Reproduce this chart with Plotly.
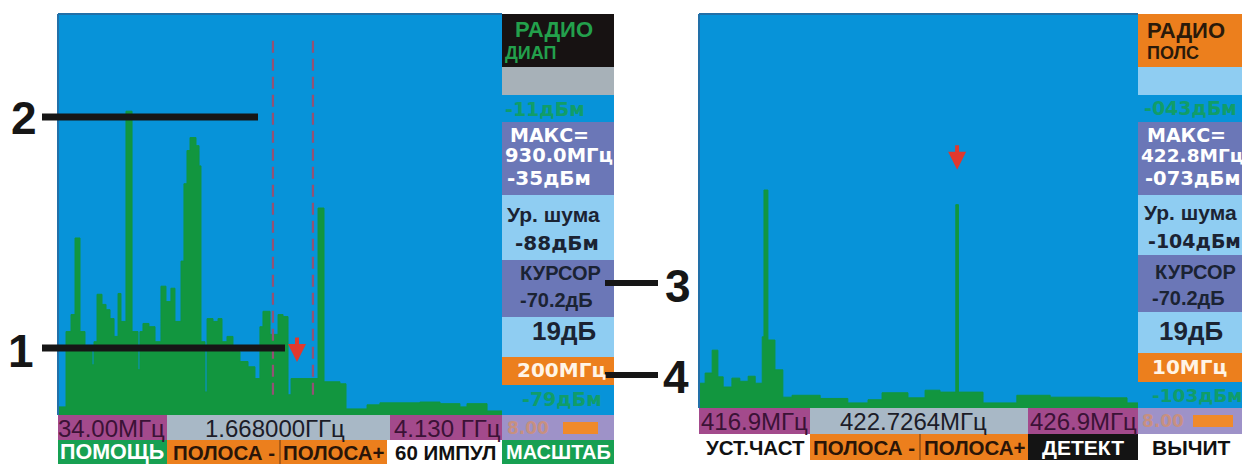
import plotly.graph_objects as go

W, H = 1242, 465

# ---------------- spectrum data ----------------
# Wide-band sweep (left screen): step start frequency, MHz -> level, dBm
left_freq_mhz = [34, 71, 108, 154, 191, 237, 283, 348, 366, 394,
                 440, 477, 514, 551, 588, 615, 661, 717, 772, 790,
                 818, 873, 929, 984, 1030, 1076, 1113, 1169, 1196, 1224,
                 1252, 1307, 1335, 1353, 1390, 1409, 1464, 1510, 1547, 1593,
                 1648, 1713, 1787, 1851, 1897, 1925, 1990, 2064, 2110, 2156,
                 2184, 2433, 2488, 2635, 2691, 2885, 3004, 3373, 3558, 3742,
                 3807, 3992, 4130]
left_level_dbm = [-108, -108, -89.4, -85.2, -66.3, -89.4, -94.3, -97.6, -91.9, -80.2,
                  -82.7, -84.0, -86.2, -90.6, -80.0, -86.9, -35.0, -89.4, -98.8, -89.4,
                  -87.4, -88.2, -91.9, -78.2, -82.0, -78.7, -86.9, -72.0, -52.9, -44.7,
                  -41.5, -43.5, -48.5, -91.9, -104.3, -86.2, -86.9, -86.2, -91.9, -90.6,
                  -94.3, -96.8, -98.1, -101.0, -88.2, -84.4, -90.1, -85.2, -85.7, -105.0,
                  -101.0, -58.9, -101.8, -102.3, -108.5, -107.5, -107.0, -106.8, -107.2, -108.0,
                  -107.2, -109.0, -109.0]

# Narrow-band sweep (right screen)
right_freq_mhz = [416.90, 417.04, 417.20, 417.33, 417.45, 417.65, 417.83, 418.02, 418.18, 418.34,
                  418.38, 418.47, 418.63, 418.81, 419.02, 419.66, 420.29, 420.75, 421.07, 421.66,
                  422.05, 422.39, 422.75, 422.81, 423.37, 424.14, 424.90, 426.03, 426.65, 426.90]
right_level_dbm = [-101.1, -99.5, -95.9, -100.1, -101.7, -100.3, -100.8, -100.0, -101.1, -93.8,
                   -70.7, -94.3, -99.0, -103.3, -103.0, -103.5, -104.2, -103.7, -102.6, -103.4,
                   -102.2, -102.5, -73.0, -102.5, -104.2, -103.0, -103.3, -103.4, -104.2, -104.2]

left_span_mhz = [34.0, 4130.0]
left_range_dbm = [-110, -11]
right_span_mhz = [416.9, 426.9]
right_range_dbm = [-105, -43]

left_band_marks_mhz = [2017, 2386]
left_cursor = (2239, -96.9)
right_cursor = (422.78, -67.5)

# ---------------- colours ----------------
BLUE = "#0793d9"
GREEN = "#12963f"
LBLUE = "#8fcdf2"
SLATE = "#6b77b7"
ORANGE = "#ec7f1d"
MAGENTA = "#a34a8c"
GREY = "#a8b8c6"
LAV = "#9e92c8"
DARK = "#1b2333"
TXTGREEN = "#14a04e"

ARIAL = "Liberation Sans, Arial, sans-serif"
DEJA = "DejaVu Sans, sans-serif"


def px(x):
    return x / W


def py(y):
    return 1 - y / H


shapes = []
annotations = []


def box(x0, y0, x1, y1, color):
    shapes.append(dict(type="rect", xref="paper", yref="paper",
                       x0=px(x0), x1=px(x1), y0=py(y1), y1=py(y0),
                       fillcolor=color, line_width=0, layer="above"))


def seg(x0, y0, x1, y1, color, width):
    shapes.append(dict(type="line", xref="paper", yref="paper",
                       x0=px(x0), x1=px(x1), y0=py(y0), y1=py(y1),
                       line=dict(color=color, width=width), layer="above"))


def label(text, x, y, size, color, family=ARIAL, bold=True, anchor="left", opacity=1.0):
    annotations.append(dict(text=text, xref="paper", yref="paper",
                            x=px(x), y=py(y), xanchor=anchor, yanchor="middle",
                            showarrow=False, opacity=opacity,
                            font=dict(family=family, size=size, color=color,
                                      weight="bold" if bold else "normal")))


fig = go.Figure()

# ---------------- spectra ----------------
fig.add_trace(go.Scatter(x=left_span_mhz, y=[left_range_dbm[0]] * 2, mode="lines",
                         line=dict(width=0, color=GREEN), hoverinfo="skip",
                         showlegend=False, xaxis="x", yaxis="y"))
fig.add_trace(go.Scatter(x=left_freq_mhz, y=left_level_dbm, mode="lines",
                         line=dict(width=1, color=GREEN, shape="hv"),
                         fill="tonexty", fillcolor=GREEN,
                         showlegend=False, xaxis="x", yaxis="y"))
fig.add_trace(go.Scatter(x=right_span_mhz, y=[right_range_dbm[0]] * 2, mode="lines",
                         line=dict(width=0, color=GREEN), hoverinfo="skip",
                         showlegend=False, xaxis="x2", yaxis="y2"))
fig.add_trace(go.Scatter(x=right_freq_mhz, y=right_level_dbm, mode="lines",
                         line=dict(width=1, color=GREEN, shape="hv"),
                         fill="tonexty", fillcolor=GREEN,
                         showlegend=False, xaxis="x2", yaxis="y2"))

# band limit markers on the wide-band screen
for f in left_band_marks_mhz:
    shapes.append(dict(type="line", xref="x", yref="y", x0=f, x1=f, y0=-105, y1=-17,
                       line=dict(color="#935274", width=2.2, dash="12px,6px"), layer="above"))

# cursor arrows
for (cx, cy), xr, yr in [(left_cursor, "x", "y"), (right_cursor, "x2", "y2")]:
    annotations.append(dict(text="", x=cx, y=cy, xref=xr, yref=yr, ax=0, ay=-26,
                            showarrow=True, arrowhead=2, arrowsize=0.9, arrowwidth=4,
                            arrowcolor="#e0392e"))

# plot frame edges
for x0, x1, yb in [(58, 502, 415), (699, 1138, 408)]:
    seg(x0, 14, x1, 14, "#2270a8", 2)
    seg(x0, 14, x0, yb, "#2270a8", 2)

# ---------------- left side panel ----------------
box(502, 14, 614, 67, "#171212")
box(502, 67, 614, 95, "#a7b1b8")
box(502, 95, 614, 122, BLUE)
box(502, 122, 614, 195, SLATE)
box(502, 195, 614, 260, LBLUE)
box(502, 260, 614, 317, SLATE)
box(502, 317, 614, 357, LBLUE)
box(502, 357, 614, 385, ORANGE)
box(502, 385, 614, 415, BLUE)

label("РАДИО", 554, 30, 22, "#23a04c", anchor="center")
label("ДИАП", 503, 53, 18, "#23a04c")
label("-11дБм", 503, 109, 19, TXTGREEN, family=DEJA, opacity=0.8)
label("МАКС=", 508, 135, 19, "white", family=DEJA)
label("930.0МГц", 503, 156, 19.5, "white", family=DEJA)
label("-35дБм", 505, 178, 20, "white", family=DEJA)
label("Ур. шума", 505, 214, 21, DARK)
label("-88дБм", 513, 243, 20, DARK, family=DEJA)
label("КУРСОР", 518, 273, 20, DARK)
label("-70.2дБ", 518, 300, 20, DARK)
label("19дБ", 530, 331, 26, DARK)
label("200МГц", 515, 370, 20, "#fff4e6", family=DEJA)
label("-79дБм", 520, 399, 19, TXTGREEN, family=DEJA, opacity=0.8)

# ---------------- left bottom rows ----------------
box(58, 415, 167, 440, MAGENTA)
box(167, 415, 390, 440, GREY)
box(390, 415, 502, 440, MAGENTA)
box(502, 415, 614, 440, LAV)
box(58, 440, 167, 464, "#17a052")
box(167, 440, 387, 464, ORANGE)
box(387, 440, 502, 464, "white")
box(502, 440, 614, 464, "#17a052")
seg(280, 440, 280, 464, "#6b3a12", 1)

label("34.00МГц", 111, 428, 24, "#3b1236", bold=False, anchor="center")
label("1.668000ГГц", 275, 428, 24, "#1c1c28", bold=False, anchor="center")
label("4.130 ГГц", 447, 428, 24, "#3b1236", bold=False, anchor="center")
label("8.00", 505, 428, 17, "#f0903a", family=DEJA, opacity=0.5)
shapes.append(dict(type="rect", xref="paper", yref="paper",
                   x0=px(563), x1=px(598), y0=py(434), y1=py(422),
                   fillcolor="#f08a2a", line_width=0, layer="above"))
label("ПОМОЩЬ", 112, 452, 21.5, "white", anchor="center")
label("ПОЛОСА -", 224, 452, 20.5, "#2a1508", anchor="center")
label("ПОЛОСА+", 334, 452, 20.5, "#2a1508", anchor="center")
label("60 ИМПУЛ", 445, 452, 20.5, "#111111", anchor="center")
label("МАСШТАБ", 558, 452, 20, "white", anchor="center")

# ---------------- right side panel ----------------
box(1138, 14, 1242, 67, ORANGE)
box(1138, 67, 1242, 95, LBLUE)
box(1138, 95, 1242, 122, BLUE)
box(1138, 122, 1242, 195, SLATE)
box(1138, 195, 1242, 255, LBLUE)
box(1138, 255, 1242, 312, SLATE)
box(1138, 312, 1242, 353, LBLUE)
box(1138, 353, 1242, 382, ORANGE)
box(1138, 382, 1242, 408, BLUE)

label("РАДИО", 1145, 31, 22, "#2a1a0a")
label("ПОЛС", 1145, 53, 18, "#2a1a0a")
label("-043дБм", 1142, 108, 19, TXTGREEN, family=DEJA, opacity=0.8)
label("МАКС=", 1145, 135, 19, "white", family=DEJA)
label("422.8МГц", 1139, 156, 18.5, "white", family=DEJA)
label("-073дБм", 1143, 178, 19.5, "white", family=DEJA)
label("Ур. шума", 1142, 213, 21, DARK)
label("-104дБм", 1146, 241, 19, DARK, family=DEJA)
label("КУРСОР", 1153, 272, 20, DARK)
label("-70.2дБ", 1150, 298, 20, DARK)
label("19дБ", 1157, 331, 26, DARK)
label("10МГц", 1150, 367, 20, "#fff4e6", family=DEJA)
label("-103дБм", 1150, 395, 18.5, TXTGREEN, family=DEJA, opacity=0.8)

# ---------------- right bottom rows ----------------
box(699, 408, 810, 434, MAGENTA)
box(810, 408, 1028, 434, GREY)
box(1028, 408, 1138, 434, MAGENTA)
box(1138, 408, 1242, 434, LAV)
box(699, 434, 810, 460, "white")
box(810, 434, 1028, 460, ORANGE)
box(1028, 434, 1138, 460, "#141414")
box(1138, 434, 1242, 460, "white")
seg(920, 434, 920, 460, "#6b3a12", 1)

label("416.9МГц", 754, 421, 24, "#3b1236", bold=False, anchor="center")
label("422.7264МГц", 913, 421, 24, "#1c1c28", bold=False, anchor="center")
label("426.9МГц", 1083, 421, 24, "#3b1236", bold=False, anchor="center")
label("8.00", 1140, 421, 17, "#f0903a", family=DEJA, opacity=0.5)
shapes.append(dict(type="rect", xref="paper", yref="paper",
                   x0=px(1193), x1=px(1233), y0=py(427), y1=py(415),
                   fillcolor="#f08a2a", line_width=0, layer="above"))
label("УСТ.ЧАСТ", 755, 447, 20.5, "#111111", anchor="center")
label("ПОЛОСА -", 864, 447, 20.5, "#2a1508", anchor="center")
label("ПОЛОСА+", 975, 447, 20.5, "#2a1508", anchor="center")
label("ДЕТЕКТ", 1083, 447, 21, "white", anchor="center")
label("ВЫЧИТ", 1191, 447, 21, "#111111", anchor="center")

# ---------------- numbered callouts ----------------
CALL = "#161616"
seg(42, 117, 258, 117, CALL, 7)
seg(42, 348, 285, 348, CALL, 7)
seg(605, 283, 658, 283, CALL, 6)
seg(605, 375, 658, 375, CALL, 6)
label("2", 24, 118, 46, CALL, anchor="center")
label("1", 21, 351, 46, CALL, anchor="center")
label("3", 678, 286, 46, CALL, anchor="center")
label("4", 676, 377, 46, CALL, anchor="center")

axis_off = dict(visible=False, showgrid=False, zeroline=False, fixedrange=True)
fig.update_layout(
    width=W, height=H,
    margin=dict(l=0, r=0, t=0, b=0),
    paper_bgcolor="white",
    plot_bgcolor=BLUE,
    showlegend=False,
    xaxis=dict(domain=[px(58), px(502)], range=left_span_mhz, anchor="y", **axis_off),
    yaxis=dict(domain=[py(415), py(14)], range=left_range_dbm, anchor="x", **axis_off),
    xaxis2=dict(domain=[px(699), px(1138)], range=right_span_mhz, anchor="y2", **axis_off),
    yaxis2=dict(domain=[py(408), py(14)], range=right_range_dbm, anchor="x2", **axis_off),
    shapes=shapes,
    annotations=annotations,
)

fig.write_html("out.html")
